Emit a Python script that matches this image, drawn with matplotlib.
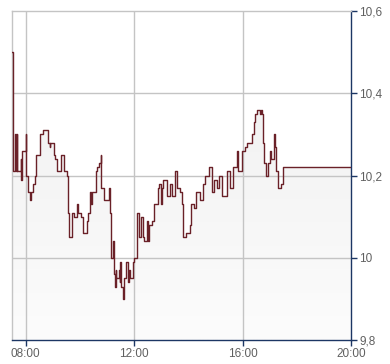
import numpy as np
import matplotlib
matplotlib.use("Agg")
import matplotlib.pyplot as plt
from matplotlib.patches import Polygon

# intraday quotes (step series)
times = ["07:30", "07:33", "07:36", "07:38", "07:40", "07:42", "07:49", "07:51", "07:53",
         "08:00", "08:02", "08:05", "08:09", "08:13", "08:16", "08:20", "08:24", "08:31",
         "08:33", "08:38", "08:49", "08:53", "08:55", "09:04", "09:06", "09:09", "09:18",
         "09:24", "09:31", "09:33", "09:35", "09:42", "09:48", "09:53", "09:57", "10:02",
         "10:08", "10:17", "10:19", "10:22", "10:24", "10:28", "10:35", "10:39", "10:42",
         "10:46", "10:48", "10:53", "11:04", "11:06", "11:08", "11:10", "11:13", "11:15",
         "11:17", "11:19", "11:21", "11:26", "11:28", "11:30", "11:32", "11:35", "11:37",
         "11:43", "11:46", "11:48", "11:50", "11:57", "11:59", "12:06", "12:10", "12:15",
         "12:19", "12:21", "12:28", "12:30", "12:34", "12:39", "12:45", "12:52", "12:56",
         "12:59", "13:01", "13:03", "13:12", "13:19", "13:23", "13:30", "13:34", "13:41",
         "13:45", "13:48", "13:54", "14:03", "14:07", "14:12", "14:18", "14:25", "14:32",
         "14:38", "14:45", "14:52", "14:58", "15:03", "15:09", "15:14", "15:25", "15:32",
         "15:38", "15:47", "15:50", "15:58", "16:05", "16:09", "16:22", "16:25", "16:27",
         "16:31", "16:38", "16:40", "16:42", "16:45", "16:47", "16:51", "16:56", "17:00",
         "17:04", "17:09", "17:11", "17:15", "17:18", "17:26", "17:29", "20:00"]
prices = [10.50, 10.21, 10.30, 10.21, 10.30, 10.21, 10.24, 10.19, 10.26,
          10.30, 10.20, 10.16, 10.14, 10.16, 10.18, 10.20, 10.25, 10.27,
          10.30, 10.31, 10.28, 10.27, 10.28, 10.25, 10.24, 10.21, 10.25,
          10.21, 10.20, 10.11, 10.05, 10.11, 10.10, 10.13, 10.11, 10.10,
          10.06, 10.09, 10.11, 10.16, 10.13, 10.16, 10.21, 10.22, 10.23,
          10.25, 10.17, 10.14, 10.17, 10.11, 10.06, 10.00, 10.04, 9.96,
          9.93, 9.97, 9.95, 9.97, 9.94, 9.99, 9.93, 9.90, 9.95,
          9.99, 9.94, 9.97, 9.95, 9.99, 10.00, 10.11, 10.05, 10.10,
          10.05, 10.04, 10.09, 10.04, 10.08, 10.09, 10.13, 10.17, 10.18,
          10.13, 10.17, 10.19, 10.15, 10.18, 10.15, 10.21, 10.17, 10.16,
          10.13, 10.05, 10.06, 10.08, 10.13, 10.12, 10.16, 10.14, 10.18,
          10.20, 10.22, 10.16, 10.19, 10.17, 10.20, 10.15, 10.21, 10.17,
          10.22, 10.26, 10.21, 10.26, 10.27, 10.28, 10.30, 10.33, 10.35,
          10.36, 10.35, 10.36, 10.35, 10.28, 10.23, 10.20, 10.23, 10.26,
          10.24, 10.30, 10.27, 10.21, 10.17, 10.18, 10.22, 10.22]

x_ticks = ["08:00", "12:00", "16:00", "20:00"]
y_ticks = [9.8, 10.0, 10.2, 10.4, 10.6]
y_labels = ["9,8", "10", "10,2", "10,4", "10,6"]


def to_hours(s):
    h, m = s.split(":")
    return int(h) + int(m) / 60


x = np.array([to_hours(t) for t in times])
y = np.array(prices)

navy = "#1c3664"
grid = "#c4c4c4"

fig = plt.figure(figsize=(3.9, 3.64), dpi=100)
ax = fig.add_axes([12 / 390, 24 / 364, 339 / 390, 329 / 364])
ax.set_xlim(7.5, 20)
ax.set_ylim(9.8, 10.6)

# step outline -> polygon for the gradient fill
sx = np.repeat(x, 2)[1:]
sy = np.repeat(y, 2)[:-1]
verts = np.column_stack([np.r_[sx, sx[-1], sx[0]], np.r_[sy, 9.8, 9.8]])
poly = Polygon(verts, closed=True, facecolor="none", edgecolor="none")
ax.add_patch(poly)
grad = np.linspace(0, 1, 256).reshape(-1, 1)
cmap = matplotlib.colors.LinearSegmentedColormap.from_list("g", ["#fcfcfc", "#eeeeee"])
im = ax.imshow(grad, cmap=cmap, aspect="auto", extent=[7.5, 20, 9.8, 10.6],
               origin="lower", zorder=1)
im.set_clip_path(poly)

for v in [8, 12, 16]:
    ax.axvline(v, color=grid, lw=1, zorder=2)
for v in [10.0, 10.2, 10.4]:
    ax.axhline(v, color=grid, lw=1, zorder=2)

ax.step(x, y, where="post", color="#6a2128", lw=1.0, zorder=3)

ax.yaxis.tick_right()
ax.set_yticks(y_ticks)
ax.set_yticklabels(y_labels)
ax.set_xticks([to_hours(t) for t in x_ticks])
ax.set_xticklabels(x_ticks)
ax.tick_params(axis="both", direction="out", length=4, width=1, color=navy,
               labelcolor="#606060", labelsize=8.5)
ax.tick_params(axis="y", pad=2)
ax.tick_params(axis="x", pad=2)
for lab in ax.get_xticklabels() + ax.get_yticklabels():
    lab.set_fontfamily("Liberation Sans")

ax.spines["left"].set_color(grid)
ax.spines["top"].set_color(grid)
ax.spines["bottom"].set_color(navy)
ax.spines["right"].set_color(navy)
for s in ax.spines.values():
    s.set_linewidth(1)

fig.savefig("out.png", dpi=100)
